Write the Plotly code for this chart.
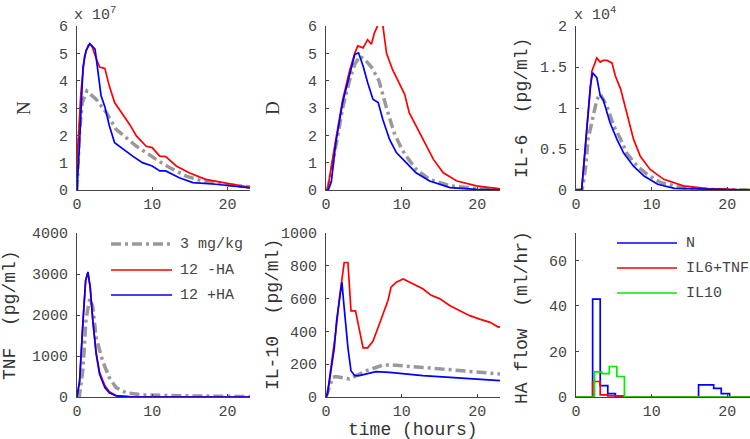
import plotly.graph_objects as go

# ---- data ----
# N (x 1e7)
t_n_gray = [0, 0.3, 0.7, 1.3, 2.6, 3.9, 5.2, 6.5, 7.9, 9.2, 10.5, 12.3, 14.5, 16.7, 19.8, 23]
n_gray = [0, 2.0, 3.2, 3.62, 3.3, 2.83, 2.22, 1.91, 1.6, 1.37, 1.12, 0.82, 0.51, 0.33, 0.2, 0.11]
t_n_red = [0, 0.1, 0.25, 0.5, 1, 1.5, 1.7, 2, 2.5, 3, 3.7, 4.3, 5, 6.1, 7, 7.9, 9.2, 10, 11, 11.8, 13.2, 14.9, 17.1, 20, 23]
n_red = [0, 1.6, 2.2, 3.5, 4.9, 5.3, 5.35, 5.25, 4.85, 4.5, 4.45, 3.8, 3.2, 2.75, 2.4, 1.98, 1.6, 1.55, 1.24, 1.22, 0.88, 0.63, 0.39, 0.24, 0.1]
t_n_blue = [0, 0.3, 0.8, 1.2, 1.7, 2.1, 2.4, 2.8, 3.2, 3.7, 4.3, 5, 6.1, 7.4, 8.7, 10, 11, 11.8, 13.6, 15.4, 18.5, 23]
n_blue = [0, 1.5, 4.5, 5.1, 5.35, 5.25, 5.15, 4.3, 3.45, 3.05, 2.35, 1.73, 1.49, 1.24, 1.0, 0.88, 0.7, 0.7, 0.45, 0.27, 0.21, 0.08]

# D
t_d_gray = [0, 0.3, 1.3, 2.2, 3.1, 3.8, 4.5, 5.2, 6.0, 7.0, 8.0, 9.0, 10.0, 10.6, 11.9, 13.7, 16.4, 19.9, 23]
d_gray = [0, 0.1, 1.6, 3.0, 4.0, 4.6, 4.9, 4.75, 4.5, 4.0, 3.0, 2.1, 1.5, 1.24, 0.76, 0.39, 0.15, 0.05, 0.02]
t_d_red = [0, 0.2, 1.3, 2.2, 3.1, 3.8, 4.2, 4.9, 5.5, 6.0, 6.4, 6.9, 7.5, 8.0, 8.8, 9.7, 10.4, 11, 11.9, 12.8, 14.2, 15.5, 17.3, 19.9, 23]
d_red = [0, 0, 1.85, 3.3, 4.35, 5.0, 5.27, 5.2, 5.5, 5.33, 5.75, 6.05, 6.05, 5.0, 4.4, 3.9, 3.5, 2.83, 2.34, 1.85, 1.12, 0.63, 0.33, 0.15, 0.04]
t_d_blue = [0, 0.3, 0.7, 1.3, 2.2, 3.1, 3.8, 4.3, 4.9, 5.5, 6.2, 6.9, 7.5, 8.4, 9.3, 10.6, 11.9, 13.7, 16.4, 19.9, 23]
d_blue = [0, 0, 0.3, 1.73, 3.2, 4.17, 4.96, 5.02, 4.54, 3.93, 3.32, 3.2, 2.59, 1.85, 1.37, 1.0, 0.63, 0.33, 0.09, 0.02, 0.01]

# IL-6 (x 1e4)
t_il6_gray = [0, 0.8, 1.0, 1.3, 1.6, 2.1, 2.75, 3.2, 4.1, 5, 5.9, 6.7, 8.1, 9.4, 11.2, 13.9, 16, 23]
il6_gray = [0, 0, 0.1, 0.3, 0.62, 0.82, 1.1, 1.17, 1.02, 0.78, 0.62, 0.45, 0.29, 0.19, 0.09, 0.03, 0.01, 0]
t_il6_red = [0, 0.75, 1.4, 2.1, 2.75, 3.2, 3.6, 4.1, 4.75, 5.2, 5.9, 6.7, 7.6, 8.5, 9.8, 11.6, 14.2, 17.4, 23]
il6_red = [0, 0, 0.7, 1.45, 1.61, 1.56, 1.58, 1.58, 1.55, 1.39, 1.23, 0.94, 0.62, 0.41, 0.25, 0.13, 0.05, 0.016, 0]
t_il6_blue = [0, 0.75, 1.2, 1.9, 2.2, 2.75, 3.2, 3.6, 4.5, 5.4, 6.3, 7.6, 9, 10.8, 13, 23]
il6_blue = [0, 0, 0.5, 1.27, 1.43, 1.37, 1.15, 1.1, 0.82, 0.62, 0.45, 0.29, 0.17, 0.07, 0.02, 0]

# TNF (pg/ml)
t_tnf_gray = [0, 0.3, 0.8, 1.2, 1.7, 2.1, 2.55, 3.4, 4.3, 5.2, 6.5, 8.7, 16, 23]
tnf_gray = [0, 0, 700, 1900, 2400, 2200, 1450, 880, 470, 230, 105, 50, 25, 10]
t_tnf = [0, 0.35, 0.8, 1.15, 1.45, 1.75, 2.1, 2.55, 3.0, 3.7, 4.3, 5.2, 7, 23]
tnf_red = [0, 390, 1860, 2840, 3040, 2690, 1880, 1080, 600, 280, 130, 35, 8, 0]
tnf_blue = [0, 390, 1860, 2840, 3050, 2680, 1860, 1045, 555, 230, 105, 25, 5, 0]

# IL-10 (pg/ml)
t_il10_gray = [0, 0.4, 0.9, 1.3, 2.2, 3.1, 4, 5.3, 6.6, 7.5, 8.8, 10.6, 12.8, 15.5, 18.1, 20.8, 23]
il10_gray = [0, 60, 120, 125, 120, 110, 130, 160, 180, 195, 195, 190, 180, 170, 160, 150, 140]
t_il10_red = [0, 0.2, 0.65, 1.3, 1.8, 2.1, 2.4, 2.9, 3.3, 3.9, 4.4, 4.9, 5.5, 6.2, 6.9, 7.5, 8.2, 8.6, 9.3,
              10.2, 11.1, 12, 12.8, 13.9, 15, 16.4, 17.7, 19, 20.3, 21.7, 22.8, 23]
il10_red = [0, 20, 180, 400, 610, 710, 820, 820, 525, 525, 400, 300, 300, 340, 425, 505, 590, 670, 700,
            720, 700, 680, 660, 620, 600, 557, 527, 496, 475, 455, 425, 430]
t_il10_blue = [0, 0.2, 0.65, 1.1, 1.4, 1.8, 2.1, 2.4, 2.9, 3.3, 3.8, 4.4, 5.3, 6.6, 8.4, 10.2, 12.8, 16.4, 19.9, 23]
il10_blue = [0, 20, 160, 300, 465, 610, 700, 545, 300, 160, 130, 130, 140, 155, 150, 140, 130, 120, 110, 100]

# HA flow (ml/hr), stepwise
t_ha_n = [0, 2.2, 3.2, 4.2, 5.2, 16.2, 17.2, 18.2, 19.2, 20.3, 23]
ha_n = [0, 43, 5, 1.5, 0, 5.3, 5.3, 3.8, 1.5, 0, 0]
t_ha_il6 = [0, 2.2, 3.2, 4.2, 6.3, 23]
ha_il6 = [0, 6.8, 0.9, 0.5, 0, 0]
t_ha_il10 = [0, 2.45, 3.4, 4.4, 5.4, 6.4, 23]
ha_il10 = [0, 11, 10.3, 13.4, 9, 0, 0]

il6_ticks = [0, 0.5, 1, 1.5, 2]
il6_ticktext = ["0", "0.5", "1", "1.5", "2"]
legend_dose = ["3 mg/kg", "12 -HA", "12 +HA"]
legend_ha = ["N", "IL6+TNF", "IL10"]

GRAY, RED, BLUE, GREEN = "#999999", "#ff0000", "#0000ff", "#00ee00"
MONO = "Liberation Mono"
W, H = 750, 439


def px(x):
    return x / W


def py(y):
    return 1 - y / H


fig = go.Figure()


def line(n, t, v, color, gray=False, shape="linear"):
    fig.add_trace(go.Scatter(
        x=t, y=v, mode="lines", xaxis="x" + ("" if n == 1 else str(n)),
        yaxis="y" + ("" if n == 1 else str(n)), line_shape=shape,
        line=dict(color=color, width=3.5 if gray else 1.7, dash="10px,4px,3px,4px" if gray else "solid"),
        showlegend=False, hoverinfo="skip"))


line(1, t_n_gray, n_gray, GRAY, True)
line(1, t_n_red, n_red, RED)
line(1, t_n_blue, n_blue, BLUE)
line(2, t_d_gray, d_gray, GRAY, True)
line(2, t_d_red, d_red, RED)
line(2, t_d_blue, d_blue, BLUE)
line(3, t_il6_gray, il6_gray, GRAY, True)
line(3, t_il6_red, il6_red, RED)
line(3, t_il6_blue, il6_blue, BLUE)
line(4, t_tnf_gray, tnf_gray, GRAY, True)
line(4, t_tnf, tnf_red, RED)
line(4, t_tnf, tnf_blue, BLUE)
line(5, t_il10_gray, il10_gray, GRAY, True)
line(5, t_il10_red, il10_red, RED)
line(5, t_il10_blue, il10_blue, BLUE)
line(6, t_ha_n, ha_n, BLUE, shape="hv")
line(6, t_ha_il6, ha_il6, RED, shape="hv")
line(6, t_ha_il10, ha_il10, GREEN, shape="hv")

cols = [(77, 250), (326, 500), (576, 750)]
rows = [(26, 190), (233, 397)]
yranges = [[0, 6], [0, 6], [0, 2], [0, 4000], [0, 1000], [0, 72]]
ydticks = [1, 1, 0.5, 1000, 200, 20]

axstyle = dict(showline=True, linecolor="#444", linewidth=1, showgrid=False, zeroline=False,
               automargin=False, ticks="inside", ticklen=3, tickcolor="#444",
               tickfont=dict(family=MONO, size=15, color="#444"))
layout = {}
for i in range(6):
    r, c = divmod(i, 3)
    sfx = "" if i == 0 else str(i + 1)
    layout["xaxis" + sfx] = dict(axstyle, domain=[px(cols[c][0]), px(cols[c][1])], range=[0, 23],
                                 tickvals=[0, 10, 20], anchor="y" + sfx)
    layout["yaxis" + sfx] = dict(axstyle, domain=[py(rows[r][1]), py(rows[r][0])], range=yranges[i],
                                 dtick=ydticks[i], anchor="x" + sfx, ticklabelstandoff=5)
layout["yaxis3"]["tickvals"] = il6_ticks
layout["yaxis3"]["ticktext"] = il6_ticktext

fig.update_layout(width=W, height=H, margin=dict(l=0, r=0, t=0, b=0, autoexpand=False),
                  plot_bgcolor="white", paper_bgcolor="white", **layout)

ann = []


def ytitle(text, x, y, font):
    ann.append(dict(text=text, x=px(x), y=py(y), xref="paper", yref="paper", textangle=-90,
                    showarrow=False, font=font, xanchor="center", yanchor="middle"))


serif = dict(family="Liberation Serif", size=19, color="#333")
mono = dict(family=MONO, size=18, color="#333")
ytitle("N", 24, 108, serif)
ytitle("D", 273, 108, serif)
ytitle("IL-6  (pg/ml)", 522, 108, mono)
ytitle("TNF  (pg/ml)", 10, 315, mono)
ytitle("IL-10  (pg/ml)", 273, 315, mono)
ytitle("HA flow  (ml/hr)", 522, 318, mono)
ann.append(dict(text="time (hours)", x=px(413), y=py(430), xref="paper", yref="paper", showarrow=False,
                font=mono, xanchor="center", yanchor="middle"))
for x0, s in [(72, "7"), (572, "4")]:
    ann.append(dict(text="x 10<sup>" + s + "</sup>", x=px(x0), y=py(14), xref="paper", yref="paper",
                    showarrow=False, font=dict(family=MONO, size=15, color="#444"),
                    xanchor="left", yanchor="middle"))

shapes = []


def legend(items, colors, x0, x1, ys, xt, dashes):
    for name, col, y, d in zip(items, colors, ys, dashes):
        shapes.append(dict(type="line", xref="paper", yref="paper", x0=px(x0), x1=px(x1),
                           y0=py(y), y1=py(y),
                           line=dict(color=col, width=3.5 if d else 1.7,
                                     dash="10px,4px,3px,4px" if d else "solid")))
        ann.append(dict(text=name, x=px(xt), y=py(y), xref="paper", yref="paper", showarrow=False,
                        font=dict(family=MONO, size=15, color="#444"), xanchor="left", yanchor="middle"))


legend(legend_dose, [GRAY, RED, BLUE], 111, 172, [244, 270, 295], 178, [True, False, False])
legend(legend_ha, [BLUE, RED, GREEN], 617, 677, [243, 268, 293], 684, [False, False, False])

fig.update_layout(annotations=ann, shapes=shapes)
fig.write_html("out.html", config={"displayModeBar": False},
               post_script="document.body.style.margin='0px';")
